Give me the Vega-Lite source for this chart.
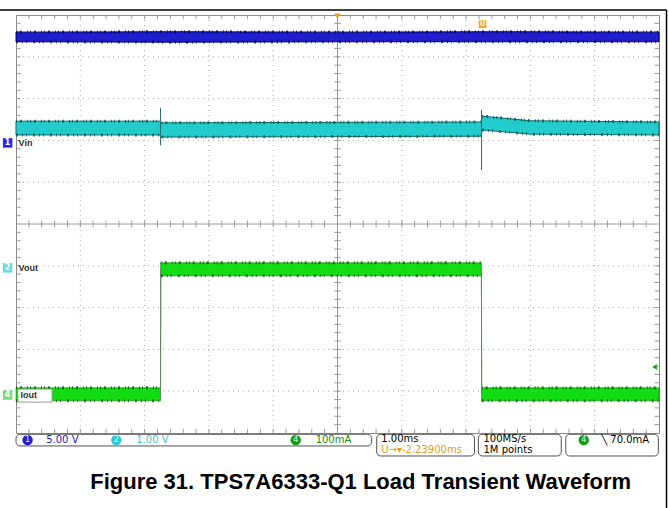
{
  "$schema": "https://vega.github.io/schema/vega-lite/v6.json",
  "width": 643,
  "height": 418,
  "autosize": "none",
  "padding": {"left": 16, "top": 15, "right": 10, "bottom": 75},
  "background": "white",
  "config": {"view": {"stroke": "#8a8a8a", "strokeWidth": 1}},
  "datasets": {
    "xt": [{"v": -4.8}, {"v": -4.6}, {"v": -4.4}, {"v": -4.2}, {"v": -4.0}, {"v": -3.8}, {"v": -3.6}, {"v": -3.4}, {"v": -3.2}, {"v": -3.0}, {"v": -2.8}, {"v": -2.6}, {"v": -2.4}, {"v": -2.2}, {"v": -2.0}, {"v": -1.8}, {"v": -1.6}, {"v": -1.4}, {"v": -1.2}, {"v": -1.0}, {"v": -0.8}, {"v": -0.6}, {"v": -0.4}, {"v": -0.2}, {"v": 0.2}, {"v": 0.4}, {"v": 0.6}, {"v": 0.8}, {"v": 1.0}, {"v": 1.2}, {"v": 1.4}, {"v": 1.6}, {"v": 1.8}, {"v": 2.0}, {"v": 2.2}, {"v": 2.4}, {"v": 2.6}, {"v": 2.8}, {"v": 3.0}, {"v": 3.2}, {"v": 3.4}, {"v": 3.6}, {"v": 3.8}, {"v": 4.0}, {"v": 4.2}, {"v": 4.4}, {"v": 4.6}, {"v": 4.8}],
    "grid": [{"v": -4}, {"v": -3}, {"v": -2}, {"v": -1}, {"v": 1}, {"v": 2}, {"v": 3}, {"v": 4}],
    "blue": [{"t": -5, "hi": 4.59, "lo": 4.36}, {"t": -2.5, "hi": 4.6, "lo": 4.35}, {"t": 0, "hi": 4.59, "lo": 4.36}, {"t": 2.5, "hi": 4.6, "lo": 4.36}, {"t": 5, "hi": 4.59, "lo": 4.36}],
    "cyan": [{"t": -5, "hi": 2.46, "lo": 2.13, "seg": "a"}, {"t": -2.76, "hi": 2.46, "lo": 2.13, "seg": "a"}, {"t": -2.74, "hi": 2.42, "lo": 2.08, "seg": "b"}, {"t": 2.23, "hi": 2.44, "lo": 2.1, "seg": "b"}, {"t": 2.25, "hi": 2.58, "lo": 2.25, "seg": "c"}, {"t": 3.0, "hi": 2.47, "lo": 2.15, "seg": "c"}, {"t": 5, "hi": 2.44, "lo": 2.13, "seg": "c"}],
    "green": [{"t": -5, "hi": -3.92, "lo": -4.23, "seg": "a"}, {"t": -2.753, "hi": -3.92, "lo": -4.23, "seg": "a"}, {"t": -2.749, "hi": -0.93, "lo": -1.24, "seg": "b"}, {"t": 2.238, "hi": -0.93, "lo": -1.24, "seg": "b"}, {"t": 2.242, "hi": -3.92, "lo": -4.23, "seg": "c"}, {"t": 5, "hi": -3.92, "lo": -4.23, "seg": "c"}],
    "spikes": [{"t": -2.753, "a": 1.88, "b": 2.78, "c": "cyan"}, {"t": 2.24, "a": 1.29, "b": 2.73, "c": "cyan"}, {"t": -2.751, "a": -4.08, "b": -1.09, "c": "green"}, {"t": 2.24, "a": -4.08, "b": -1.09, "c": "green"}],
    "tags": [{"x": -5.13, "y": 1.94, "n": "1", "col": "#2a2ad8"}, {"x": -5.13, "y": -1.05, "n": "2", "col": "#6ad8e0"}, {"x": -5.13, "y": -4.09, "n": "4", "col": "#7ad87a"}],
    "chlabels": [{"x": -4.96, "y": 1.94, "s": "Vin"}, {"x": -4.96, "y": -1.05, "s": "Vout"}],
    "sbox": [{"x1": -5.0, "x2": 0.53, "y1": -5.03, "y2": -5.31}, {"x1": 0.61, "x2": 2.13, "y1": -5.03, "y2": -5.55}, {"x1": 2.19, "x2": 3.48, "y1": -5.03, "y2": -5.55}, {"x1": 3.55, "x2": 4.99, "y1": -5.03, "y2": -5.55}],
    "sdots": [{"x": -4.82, "y": -5.17, "n": "1", "col": "#2020d0"}, {"x": -3.44, "y": -5.17, "n": "2", "col": "#30c8d0"}, {"x": -0.65, "y": -5.17, "n": "4", "col": "#10a010"}, {"x": 3.83, "y": -5.17, "n": "4", "col": "#10a010"}],
    "stext": [{"x": -4.53, "y": -5.17, "s": "5.00 V", "col": "#2020c0"}, {"x": -3.13, "y": -5.17, "s": "1.00 V", "col": "#40c8d0"}, {"x": -0.34, "y": -5.17, "s": "100mA", "col": "#109010"}, {"x": 0.68, "y": -5.15, "s": "1.00ms", "col": "#000000"}, {"x": 0.68, "y": -5.41, "s": "U\u2192\u25be-2.23900ms", "col": "#e0a020"}, {"x": 2.27, "y": -5.15, "s": "100MS/s", "col": "#000000"}, {"x": 2.27, "y": -5.41, "s": "1M points", "col": "#000000"}, {"x": 4.1, "y": -5.17, "s": "\u2572 70.0mA", "col": "#000000"}]
  },
  "layer": [
    {"data": {"name": "grid"}, "mark": {"type": "rule", "color": "#a8a8a8", "strokeDash": [1, 4], "strokeWidth": 1},
     "encoding": {"x": {"field": "v", "type": "quantitative", "scale": {"domain": [-5, 5], "nice": false, "zero": false}, "axis": null}}},
    {"data": {"name": "grid"}, "mark": {"type": "rule", "color": "#a8a8a8", "strokeDash": [1, 4], "strokeWidth": 1},
     "encoding": {"y": {"field": "v", "type": "quantitative", "scale": {"domain": [-5, 5], "nice": false, "zero": false}, "axis": null}}},
    {"data": {"values": [{"v": 0}]}, "mark": {"type": "rule", "color": "#9a9a9a", "strokeWidth": 1},
     "encoding": {"x": {"field": "v", "type": "quantitative"}}},
    {"data": {"values": [{"v": 0}]}, "mark": {"type": "rule", "color": "#9a9a9a", "strokeWidth": 1},
     "encoding": {"y": {"field": "v", "type": "quantitative"}}},
    {"data": {"name": "xt"}, "mark": {"type": "rule", "color": "#9a9a9a", "strokeWidth": 1},
     "encoding": {"x": {"field": "v", "type": "quantitative"}, "y": {"datum": -5}, "y2": {"datum": -4.9}}},
    {"data": {"name": "xt"}, "mark": {"type": "rule", "color": "#9a9a9a", "strokeWidth": 1},
     "encoding": {"x": {"field": "v", "type": "quantitative"}, "y": {"datum": 5}, "y2": {"datum": 4.9}}},
    {"data": {"name": "xt"}, "mark": {"type": "rule", "color": "#9a9a9a", "strokeWidth": 1},
     "encoding": {"x": {"field": "v", "type": "quantitative"}, "y": {"datum": -0.08}, "y2": {"datum": 0.08}}},
    {"data": {"name": "xt"}, "mark": {"type": "rule", "color": "#9a9a9a", "strokeWidth": 1},
     "encoding": {"y": {"field": "v", "type": "quantitative"}, "x": {"datum": -5}, "x2": {"datum": -4.93}}},
    {"data": {"name": "xt"}, "mark": {"type": "rule", "color": "#9a9a9a", "strokeWidth": 1},
     "encoding": {"y": {"field": "v", "type": "quantitative"}, "x": {"datum": 5}, "x2": {"datum": 4.93}}},
    {"data": {"name": "xt"}, "mark": {"type": "rule", "color": "#9a9a9a", "strokeWidth": 1},
     "encoding": {"y": {"field": "v", "type": "quantitative"}, "x": {"datum": -0.05}, "x2": {"datum": 0.05}}},
    {"data": {"name": "blue"}, "mark": {"type": "area", "color": "#1e1ecc", "stroke": "#000070", "strokeWidth": 1, "opacity": 1},
     "encoding": {"x": {"field": "t", "type": "quantitative"}, "y": {"field": "hi", "type": "quantitative"}, "y2": {"field": "lo"}}},
    {"data": {"name": "blue"}, "mark": {"type": "line", "color": "#000060", "strokeWidth": 3, "strokeDash": [1, 3, 2, 5, 1, 2], "opacity": 0.7},
     "encoding": {"x": {"field": "t", "type": "quantitative"}, "y": {"field": "hi", "type": "quantitative"}}},
    {"data": {"name": "blue"}, "mark": {"type": "line", "color": "#000060", "strokeWidth": 3, "strokeDash": [2, 4, 1, 3, 1, 6], "opacity": 0.7},
     "encoding": {"x": {"field": "t", "type": "quantitative"}, "y": {"field": "lo", "type": "quantitative"}}},
    {"data": {"name": "cyan"}, "mark": {"type": "area", "color": "#22cccc", "stroke": "#0f6a6a", "strokeWidth": 1, "opacity": 1},
     "encoding": {"x": {"field": "t", "type": "quantitative"}, "y": {"field": "hi", "type": "quantitative"}, "y2": {"field": "lo"}}},
    {"data": {"name": "cyan"}, "mark": {"type": "line", "color": "#0f5a5a", "strokeWidth": 3, "strokeDash": [1, 3, 2, 5, 1, 2], "opacity": 0.8},
     "encoding": {"x": {"field": "t", "type": "quantitative"}, "y": {"field": "hi", "type": "quantitative"}, "detail": {"field": "seg"}}},
    {"data": {"name": "cyan"}, "mark": {"type": "line", "color": "#0f5a5a", "strokeWidth": 3, "strokeDash": [2, 4, 1, 3, 1, 6], "opacity": 0.8},
     "encoding": {"x": {"field": "t", "type": "quantitative"}, "y": {"field": "lo", "type": "quantitative"}, "detail": {"field": "seg"}}},
    {"data": {"name": "green"}, "mark": {"type": "area", "color": "#12dc12", "stroke": "#0a700a", "strokeWidth": 0.6, "opacity": 1},
     "encoding": {"x": {"field": "t", "type": "quantitative"}, "y": {"field": "hi", "type": "quantitative"}, "y2": {"field": "lo"}}},
    {"data": {"name": "green"}, "mark": {"type": "line", "color": "#0a600a", "strokeWidth": 3, "strokeDash": [1, 3, 2, 5, 1, 2], "opacity": 0.8},
     "encoding": {"x": {"field": "t", "type": "quantitative"}, "y": {"field": "hi", "type": "quantitative"}, "detail": {"field": "seg"}}},
    {"data": {"name": "green"}, "mark": {"type": "line", "color": "#0a600a", "strokeWidth": 3, "strokeDash": [2, 4, 1, 3, 1, 6], "opacity": 0.8},
     "encoding": {"x": {"field": "t", "type": "quantitative"}, "y": {"field": "lo", "type": "quantitative"}, "detail": {"field": "seg"}}},
    {"data": {"name": "spikes"}, "mark": {"type": "rule", "strokeWidth": 1},
     "encoding": {"x": {"field": "t", "type": "quantitative"}, "y": {"field": "a", "type": "quantitative"}, "y2": {"field": "b"},
       "color": {"field": "c", "type": "nominal", "scale": {"domain": ["cyan", "green"], "range": ["#2a6a6a", "#6a8a6a"]}, "legend": null}}},
    {"data": {"values": [{"x1": -4.97, "x2": -4.44, "y1": -3.95, "y2": -4.26}]}, "mark": {"type": "rect", "fill": "white", "stroke": "#9a9a9a", "strokeWidth": 1},
     "encoding": {"x": {"field": "x1", "type": "quantitative"}, "x2": {"field": "x2"}, "y": {"field": "y1", "type": "quantitative"}, "y2": {"field": "y2"}}},
    {"data": {"values": [{"x": -4.93, "y": -4.09, "s": "Iout"}]}, "mark": {"type": "text", "align": "left", "baseline": "middle", "font": "Liberation Sans", "fontWeight": "bold", "fontSize": 9, "color": "#303030", "clip": false},
     "encoding": {"x": {"field": "x", "type": "quantitative"}, "y": {"field": "y", "type": "quantitative"}, "text": {"field": "s"}}},
    {"data": {"name": "chlabels"}, "mark": {"type": "text", "align": "left", "baseline": "middle", "font": "Liberation Sans", "fontWeight": "bold", "fontSize": 9, "color": "#303030", "clip": false},
     "encoding": {"x": {"field": "x", "type": "quantitative"}, "y": {"field": "y", "type": "quantitative"}, "text": {"field": "s"}}},
    {"data": {"name": "tags"}, "mark": {"type": "point", "shape": "square", "filled": true, "size": 90, "opacity": 1, "clip": false},
     "encoding": {"x": {"field": "x", "type": "quantitative"}, "y": {"field": "y", "type": "quantitative"}, "color": {"field": "col", "type": "nominal", "scale": null}}},
    {"data": {"name": "tags"}, "mark": {"type": "text", "align": "center", "baseline": "middle", "font": "DejaVu Sans", "fontWeight": "bold", "fontSize": 8, "color": "white", "clip": false},
     "encoding": {"x": {"field": "x", "type": "quantitative"}, "y": {"field": "y", "type": "quantitative"}, "text": {"field": "n"}}},
    {"data": {"values": [{"x": 0, "y": 4.97}]}, "mark": {"type": "point", "shape": "triangle-down", "filled": true, "size": 40, "color": "#f0a020", "opacity": 1, "clip": false},
     "encoding": {"x": {"field": "x", "type": "quantitative"}, "y": {"field": "y", "type": "quantitative"}}},
    {"data": {"values": [{"x": 2.255, "y": 4.78, "s": "U"}]}, "mark": {"type": "point", "shape": "square", "filled": true, "size": 60, "color": "#f0a830", "opacity": 1},
     "encoding": {"x": {"field": "x", "type": "quantitative"}, "y": {"field": "y", "type": "quantitative"}}},
    {"data": {"values": [{"x": 2.255, "y": 4.78, "s": "U"}]}, "mark": {"type": "text", "fontSize": 7, "font": "DejaVu Sans", "fontWeight": "bold", "color": "#fff4d0", "align": "center", "baseline": "middle"},
     "encoding": {"x": {"field": "x", "type": "quantitative"}, "y": {"field": "y", "type": "quantitative"}, "text": {"field": "s"}}},
    {"data": {"values": [{"x": 4.93, "y": -3.42}]}, "mark": {"type": "point", "shape": "triangle-left", "filled": true, "size": 30, "color": "#10a010", "opacity": 1},
     "encoding": {"x": {"field": "x", "type": "quantitative"}, "y": {"field": "y", "type": "quantitative"}}},
    {"data": {"name": "sbox"}, "mark": {"type": "rect", "fill": "white", "stroke": "#505050", "strokeWidth": 1, "cornerRadius": 4, "clip": false},
     "encoding": {"x": {"field": "x1", "type": "quantitative"}, "x2": {"field": "x2"}, "y": {"field": "y1", "type": "quantitative"}, "y2": {"field": "y2"}}},
    {"data": {"name": "sdots"}, "mark": {"type": "point", "shape": "circle", "filled": true, "size": 110, "opacity": 1, "clip": false},
     "encoding": {"x": {"field": "x", "type": "quantitative"}, "y": {"field": "y", "type": "quantitative"}, "color": {"field": "col", "type": "nominal", "scale": null}}},
    {"data": {"name": "sdots"}, "mark": {"type": "text", "align": "center", "baseline": "middle", "font": "DejaVu Sans", "fontSize": 8, "color": "#e8f0ff", "clip": false},
     "encoding": {"x": {"field": "x", "type": "quantitative"}, "y": {"field": "y", "type": "quantitative"}, "text": {"field": "n"}}},
    {"data": {"name": "stext"}, "mark": {"type": "text", "align": "left", "baseline": "middle", "font": "DejaVu Sans", "fontSize": 10, "clip": false},
     "encoding": {"x": {"field": "x", "type": "quantitative"}, "y": {"field": "y", "type": "quantitative"}, "text": {"field": "s"}, "color": {"field": "col", "type": "nominal", "scale": null}}},
    {"data": {"values": [{"x": 0.36, "y": -6.17, "s": "Figure 31. TPS7A6333-Q1 Load Transient Waveform"}]}, "mark": {"type": "text", "align": "center", "baseline": "middle", "font": "Liberation Sans", "fontWeight": "bold", "fontSize": 22, "color": "#000000", "clip": false},
     "encoding": {"x": {"field": "x", "type": "quantitative"}, "y": {"field": "y", "type": "quantitative"}, "text": {"field": "s"}}},
    {"data": {"values": [{"x1": -5.3, "x2": 5.117, "y": 5.12}]}, "mark": {"type": "rule", "color": "black", "strokeWidth": 1.5, "clip": false},
     "encoding": {"x": {"field": "x1", "type": "quantitative"}, "x2": {"field": "x2"}, "y": {"field": "y", "type": "quantitative"}}},
    {"data": {"values": [{"x": 5.117, "y1": 5.12, "y2": -6.8}]}, "mark": {"type": "rule", "color": "black", "strokeWidth": 1.5, "clip": false},
     "encoding": {"x": {"field": "x", "type": "quantitative"}, "y": {"field": "y1", "type": "quantitative"}, "y2": {"field": "y2"}}}
  ]
}
